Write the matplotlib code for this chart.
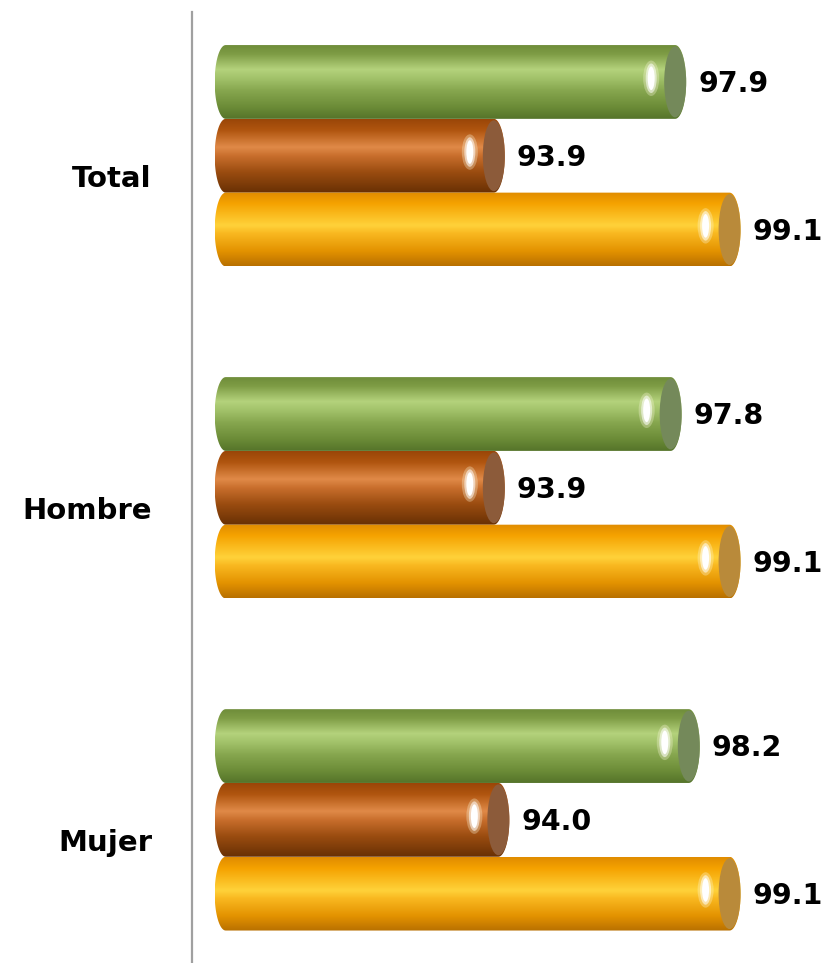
import numpy as np
import matplotlib
matplotlib.use('Agg')
import matplotlib.pyplot as plt
from matplotlib.patches import Polygon, Ellipse
from matplotlib.colors import to_rgb

# data
categories = ['Total', 'Hombre', 'Mujer']
serie_verde = [97.9, 97.8, 98.2]
serie_cafe = [93.9, 93.9, 94.0]
serie_naranja = [99.1, 99.1, 99.1]
series = [serie_verde, serie_cafe, serie_naranja]

# look of each cylinder: (gradient stops top->bottom, end face colour)
estilos = [
    ([(0, '#6f8d3a'), (0.12, '#7e9c45'), (0.33, '#b4d27c'), (0.45, '#a2c26a'),
      (0.62, '#86a64e'), (0.85, '#6a8a36'), (1, '#55742a')], '#74895a'),
    ([(0, '#9a4608'), (0.15, '#b0550f'), (0.38, '#e08a48'), (0.5, '#c86e2c'),
      (0.72, '#9a4c10'), (1, '#683004')], '#8c5b3a'),
    ([(0, '#e08c00'), (0.15, '#f5a200'), (0.45, '#ffd23a'), (0.56, '#f9b820'),
      (0.8, '#e39200'), (1, '#b87000')], '#b98a3a'),
]

W, H = 829, 963
fig = plt.figure(figsize=(W / 100, H / 100), dpi=100)
ax = fig.add_axes([192 / W, 0, (W - 192) / W, 951 / H])

x0, x1 = 87.0, 101.05
y_top, y_bot = -0.948, 11.94
base = 87.5
paso = 4.5
alto = 1.0
px_x = (W - 192) / (x1 - x0)
a = 11 / px_x  # half width of the cylinder caps


def perfil(stops, n=200):
    t = np.linspace(0, 1, n)
    pos = [s[0] for s in stops]
    cols = np.array([to_rgb(s[1]) for s in stops])
    rgb = np.stack([np.interp(t, pos, cols[:, k]) for k in range(3)], axis=1)
    return rgb[:, None, :]


def cilindro(yc, val, stops, cara):
    hh = alto / 2
    th1 = np.linspace(np.pi / 2, 3 * np.pi / 2, 40)
    th2 = np.linspace(-np.pi / 2, np.pi / 2, 40)
    xs = np.concatenate([base + a + a * np.cos(th1), val - a + a * np.cos(th2)])
    ys = np.concatenate([yc - hh * np.sin(th1), yc - hh * np.sin(th2)])
    poly = Polygon(np.column_stack([xs, ys]), closed=True, fc='none', ec='none')
    ax.add_patch(poly)
    im = ax.imshow(perfil(stops), extent=(base, val, yc + hh, yc - hh),
                   aspect='auto', interpolation='bilinear', zorder=2)
    im.set_clip_path(poly)
    ax.add_patch(Ellipse((val - a, yc), 2 * a, alto * 0.96, fc=cara, ec='none', zorder=3))
    hx = val - 35 / px_x
    ax.add_patch(Ellipse((hx, yc - 0.05), 16 / px_x, 0.48, fc='#fffbe0', alpha=0.3,
                         ec='none', zorder=4))
    ax.add_patch(Ellipse((hx, yc - 0.05), 11 / px_x, 0.4, fc='white', alpha=0.55,
                         ec='none', zorder=4))
    ax.add_patch(Ellipse((hx, yc - 0.05), 7 / px_x, 0.32, fc='white', ec='none', zorder=5))


for g, cat in enumerate(categories):
    for s, serie in enumerate(series):
        yc = g * paso + s
        val = serie[g]
        cilindro(yc, val, estilos[s][0], estilos[s][1])
        ax.text(val + 12 / px_x, yc + 0.03, f'{val:.1f}', ha='left', va='center',
                fontsize=20.5, fontweight='bold', color='black')
    ax.text(x0 - 40 / px_x, g * paso + 1.32, cat, ha='right', va='center',
            fontsize=21, fontweight='bold', color='black', clip_on=False)

ax.set_xlim(x0, x1)
ax.set_ylim(y_bot, y_top)
for side in ['top', 'right', 'bottom']:
    ax.spines[side].set_visible(False)
ax.spines['left'].set_color('#a0a0a0')
ax.spines['left'].set_linewidth(1.6)
ax.set_xticks([])
ax.set_yticks([])
ax.patch.set_alpha(0)

fig.savefig('out.png', dpi=100)
